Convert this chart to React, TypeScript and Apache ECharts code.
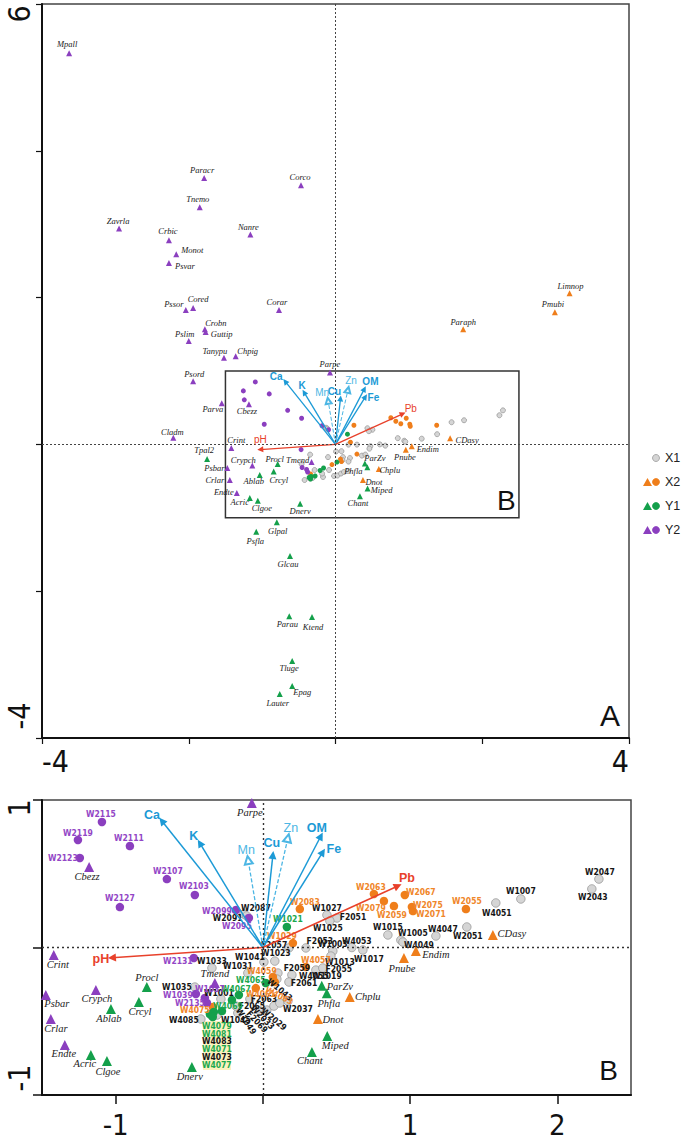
import React, { useEffect, useRef } from "react";
import * as echarts from "echarts";

type Pt = [string, number, number];

// ---------- sample scores (site points) ----------
const samplesX1: Pt[] = [
  ["W2087", -0.129, 0.227], ["W2091", -0.11, 0.214], ["W1027", 0.435, 0.22], ["F2051", 0.503, 0.2],
  ["W1025", 0.455, 0.18], ["F2057", 0.177, -0.003], ["F2053", 0.292, -0.003], ["W1003", 0.475, -0.024],
  ["W1013", 0.462, -0.058], ["W4053", 0.604, 0.0], ["W1017", 0.679, -0.017], ["W1015", 0.849, 0.085],
  ["W1005", 0.937, 0.05], ["W4049", 0.951, 0.037], ["W4047", 1.175, 0.078], ["W2051", 1.385, 0.139],
  ["W4051", 1.582, 0.302], ["W1007", 1.752, 0.329], ["W2047", 2.282, 0.464], ["W2043", 2.234, 0.397],
  ["W1041", 0.007, -0.098], ["W1023", 0.081, -0.092], ["W1033", -0.346, -0.139], ["W1031", -0.102, -0.173],
  ["F2059", 0.102, -0.173], ["W4055", 0.197, -0.186], ["W1019", 0.36, -0.153], ["F2055", 0.407, -0.139],
  ["F2061", 0.177, -0.234], ["W1043", 0.095, -0.214], ["W1035", -0.462, -0.268], ["W1001", -0.285, -0.349],
  ["W4085", -0.421, -0.485], ["W1045", -0.17, -0.444], ["F2063", -0.088, -0.349], ["F2065", -0.183, -0.397],
  ["W1049", -0.02, -0.43], ["F2069", 0.027, -0.424], ["W2033", 0.075, -0.397], ["W2029", 0.115, -0.376],
  ["W2037", 0.17, -0.363], ["W4083", -0.346, -0.464], ["W4073", -0.312, -0.458],
];
const samplesX2: Pt[] = [
  ["W2063", 0.754, 0.363], ["W2067", 0.964, 0.356], ["W2079", 0.822, 0.315], ["W2059", 0.89, 0.281],
  ["W2075", 1.012, 0.275], ["W2071", 1.019, 0.247], ["W2055", 1.379, 0.261], ["W2083", 0.251, 0.261],
  ["W1029", 0.204, 0.03], ["W4057", 0.292, -0.132], ["W4059", 0.068, -0.2], ["W4063", 0.081, -0.234],
  ["W4061", -0.048, -0.275], ["W4075", -0.34, -0.403],
];
const samplesY1: Pt[] = [
  ["W1021", 0.163, 0.139], ["W4065", 0.02, -0.241], ["W4067", -0.163, -0.322], ["W4069", -0.21, -0.356],
  ["W4079", -0.36, -0.451], ["W4081", -0.333, -0.437], ["W4071", -0.278, -0.431], ["W4077", -0.34, -0.471],
];
const samplesY2: Pt[] = [
  ["W2115", -1.093, 0.851], ["W2119", -1.256, 0.729], ["W2111", -0.903, 0.688], ["W2123", -1.243, 0.607],
  ["W2107", -0.652, 0.464], ["W2103", -0.462, 0.356], ["W2127", -0.971, 0.274], ["W2099", -0.183, 0.254],
  ["W2095", -0.095, 0.2], ["W2131", -0.469, -0.071], ["W1039", -0.455, -0.315], ["W1037", -0.394, -0.342],
  ["W2135", -0.38, -0.376],
];

// ---------- species scores ----------
const speciesX2: Pt[] = [
  ["Chplu", 0.59, -0.336], ["Dnot", 0.374, -0.485], ["Endim", 1.039, -0.024], ["Pnube", 0.958, -0.072],
  ["CDasy", 1.562, 0.085], ["Paraph", 1.74, 1.57], ["Pmubi", 2.99, 1.8], ["Limnop", 3.19, 2.06],
];
const speciesY1: Pt[] = [
  ["Tpal2", -1.75, -0.2], ["Ablab", -1.032, -0.417], ["Procl", -0.788, -0.268], ["Crcyl", -0.842, -0.37],
  ["Acric", -1.168, -0.729], ["Clgoe", -1.059, -0.769], ["Dnerv", -0.482, -0.81], ["Glpal", -0.8, -1.06],
  ["Psfla", -1.08, -1.19], ["Glcau", -0.62, -1.52], ["Parau", -0.63, -2.34], ["Ktend", -0.32, -2.35],
  ["Tluge", -0.59, -2.95], ["Lauter", -0.76, -3.4], ["Epag", -0.59, -3.29], ["ParZv", 0.4, -0.26],
  ["Phfla", 0.434, -0.31], ["Miped", 0.437, -0.6], ["Chant", 0.333, -0.708],
];
const speciesY2: Pt[] = [
  ["Mpall", -3.63, 5.33], ["Paracr", -1.79, 3.63], ["Corco", -0.47, 3.53], ["Tnemo", -1.85, 3.23],
  ["Zavrla", -2.95, 2.94], ["Crbic", -2.27, 2.78], ["Nanre", -1.16, 2.86], ["Monot", -2.17, 2.59],
  ["Psvar", -2.27, 2.47], ["Pssor", -2.04, 1.83], ["Cored", -1.94, 1.86], ["Corar", -0.77, 1.83],
  ["Crobn", -1.78, 1.57], ["Guttip", -1.77, 1.53], ["Pslim", -2.0, 1.41], ["Tanypu", -1.52, 1.18],
  ["Chpig", -1.36, 1.2], ["Psord", -1.94, 0.86], ["Parpe", -0.075, 0.98], ["Parva", -1.55, 0.56],
  ["Cbezz", -1.18, 0.546], ["Cladm", -2.21, 0.09], ["Crint", -1.42, -0.05], ["Crypch", -1.134, -0.288],
  ["Tmend", -0.326, -0.24], ["Psbar", -1.474, -0.322], ["Crlar", -1.44, -0.485], ["Endte", -1.345, -0.661],
];

// ---------- environmental vectors ----------
const envSolid: Pt[] = [["Ca", -0.686, 0.858], ["K", -0.428, 0.708], ["Cu", 0.068, 0.627], ["OM", 0.394, 0.756], ["Fe", 0.407, 0.647]];
const envDashed: Pt[] = [["Mn", -0.1, 0.593], ["Zn", 0.17, 0.742]];
const envRed: Pt[] = [["Pb", 0.917, 0.417], ["pH", -1.025, -0.07]];

// ---------- axis ranges / ticks ----------
const topXRange = [-4, 4];
const topYRange = [-4, 6];
const botXRange = [-1.5, 2.5];
const botYRange = [-1, 1];
const topXLabels = [-4, 4];
const botXTicks = [-1, 0, 1, 2];
const botXLabels = [-1, 1, 2];
const legendItems = ["X1", "X2", "Y1", "Y2"];

// ---------- label layout (label centre offset from point, px; optional rotation) ----------
const sampleLabelBottom: Record<string, number[]> = {
  W2115: [-1, -8], W2119: [0, -7], W2111: [-1, -8], W2123: [-17, 0], W2107: [1, -8], W2103: [-1, -9],
  W2127: [0, -9], W2099: [-19, 1], W2087: [12, -6], W2091: [-19, 2], W2095: [-12, 8], W2083: [5, -7],
  W1027: [0, -7], F2051: [16, -1], W1025: [-2, 7], W1021: [1, -8], W1029: [-11, -7], F2057: [-15, -3],
  F2053: [14, -7], W1003: [0, -7], W1013: [9, 6], W4053: [5, -7], W1017: [6, 9], W1015: [0, -8],
  W1005: [12, -7], W4049: [16, 3], W4047: [7, -7], W2051: [1, 9], W4051: [1, 10], W1007: [0, -8],
  W2047: [1, -7], W2043: [1, 8], W1041: [-14, -5], W1023: [1, -8], W1033: [0, -7], W1031: [-10, -7],
  F2059: [19, -5], W4055: [22, 1], W1019: [11, 6], F2055: [16, 1], F2061: [15, 1], W1043: [9, 6, -40],
  W1035: [-18, 0], W1001: [-2, -6], W4085: [-17, 1], W1045: [-2, 7], F2063: [14, 0], F2065: [16, 0],
  W1049: [1, 17, -57], F2069: [2, 15, -47], W2033: [0, 16, -45], W2029: [6, 16, -40], W2037: [10, 8],
  W4083: [5, 25], W4073: [0, 42],
  W2063: [-3, -7], W2067: [16, -3], W2079: [-13, 7], W2059: [-2, 9], W2075: [16, -2], W2071: [18, 3],
  W2055: [1, -8], W4057: [10, -7], W4059: [-11, -6], W4063: [10, 10, -27], W4061: [5, 6], W4075: [-18, 3],
  W4065: [-15, -3], W4067: [-3, -6], W4069: [-4, 6], W4079: [7, 12], W4081: [3, 22], W4071: [-5, 38],
  W4077: [4, 48],
  W2131: [-16, 3], W1039: [-18, 1], W1037: [5, -9], W2135: [-17, 0],
};
const speciesLabelBottom: Record<string, number[]> = {
  Parpe: [-2, 10], Cbezz: [-2, 10], Crint: [4, 10], Psbar: [11, 9], Crlar: [5, 9], Endte: [-1, 9],
  Crypch: [1, 9], Ablab: [-2, 9], Procl: [0, -10], Crcyl: [1, 9], Acric: [-6, 8], Clgoe: [1, 11],
  Dnerv: [-2, 10], Tmend: [0, -9], ParZv: [18, 1], Phfla: [2, 10], Chplu: [18, -1], Dnot: [15, 0],
  Miped: [8, 9], Chant: [-2, 9], Endim: [20, 3], Pnube: [-2, 10], CDasy: [19, -1],
};
const speciesLabelTop: Record<string, number[]> = {
  Mpall: [-2, -9], Paracr: [-2, -8], Corco: [-1, -8], Tnemo: [-2, -8], Zavrla: [-1, -8], Crbic: [-1, -9],
  Nanre: [-2, -7], Monot: [16, -4], Psvar: [16, 3], Pssor: [-12, -6], Cored: [5, -9], Corar: [-2, -8],
  Crobn: [11, -6], Guttip: [16, 2], Pslim: [-4, -7], Tanypu: [-9, -7], Chpig: [12, -5], Psord: [1, -7],
  Parpe: [0, -8], Parva: [-9, 6], Cbezz: [-2, 7], Cladm: [-1, -6], Crint: [5, -8], Tpal2: [-3, -9],
  Crypch: [-9, -6], Procl: [-3, -5], Tmend: [-14, -2], Psbar: [-13, 0], Ablab: [-6, 6], Crcyl: [5, 8],
  Crlar: [-15, 0], Endte: [-13, -1], Acric: [-10, 4], Clgoe: [4, 7], Dnerv: [0, 7], Glpal: [1, 9],
  Psfla: [-1, 9], Glcau: [-2, 8], Parau: [-2, 8], Ktend: [1, 10], Tluge: [-3, 7], Lauter: [-2, 9],
  Epag: [10, 6], ParZv: [10, -5], Phfla: [-14, 4], Chplu: [11, 1], Dnot: [11, 2], Miped: [14, 2],
  Chant: [-2, 7], Pnube: [-1, 7], Endim: [16, 3], CDasy: [17, 2], Paraph: [0, -7], Pmubi: [-2, -8],
  Limnop: [1, -7],
};
const envLabelBottom: Record<string, number[]> = {
  Ca: [-10, -6], K: [-6, -7], Mn: [-2, -10], Cu: [-1, -12], Zn: [3, -10], OM: [-4, -8], Fe: [11, -3],
  Pb: [9, -8], pH: [-11, 1],
};
const envLabelTop: Record<string, number[]> = {
  Ca: [-9, -5], K: [-2, -7], Mn: [-6, -8], Cu: [-6, -7], Zn: [3, -9], OM: [6, -7], Fe: [8, 1],
  Pb: [8, -5], pH: [0, -10],
};

// ---------- styles ----------
const NARROW = "'Liberation Sans Narrow', 'Arial Narrow', 'DejaVu Sans Condensed', 'Liberation Sans', sans-serif";
const SANS = "'Liberation Sans', Arial, sans-serif";
const SERIF = "'Liberation Serif', 'Times New Roman', serif";
const COL = {
  grey: "#d5d5d5", greyBorder: "#9a9a9a", orange: "#ef7e1b", green: "#14a04b", purple: "#8b3fbf",
  orangeText: "#f0862a", greenText: "#1ca84e", purpleText: "#9346c6", black: "#161616",
  blue: "#1c9ad6", blueLight: "#4cb6e4", red: "#e8412b",
};

const inBottom = (p: Pt) => p[1] >= botXRange[0] && p[1] <= botXRange[1] && p[2] >= botYRange[0] && p[2] <= botYRange[1];

function pointSeries(grid: number, pts: Pt[], symbol: string, size: number, color: string, border: string | null,
  labels: Record<string, number[]> | null, labelStyle: any, z: number) {
  return {
    type: "scatter", xAxisIndex: grid, yAxisIndex: grid, clip: false, z, silent: true,
    symbol, symbolSize: size,
    itemStyle: { color, borderColor: border || color, borderWidth: border ? 0.8 : 0, opacity: 1 },
    label: { show: false, formatter: "{b}", position: "inside", textBorderWidth: 0, textBorderColor: "transparent", ...labelStyle },
    emphasis: { disabled: true },
    data: pts.map((p) => {
      const off = labels ? labels[p[0]] : undefined;
      return {
        name: p[0], value: [p[1], p[2]],
        label: off ? { show: true, offset: [off[0], off[1]], rotate: off[2] || 0 } : { show: false },
      };
    }),
  };
}

function arrowSeries(grid: number, env: Pt[], color: string, dashed: boolean, size: number, width: number) {
  return {
    type: "lines", coordinateSystem: "cartesian2d", xAxisIndex: grid, yAxisIndex: grid, z: 4, silent: true,
    symbol: ["none", dashed ? "emptyTriangle" : "triangle"], symbolSize: size,
    lineStyle: { color, width, type: dashed ? [4, 2] : "solid", opacity: 1 },
    data: env.map((e) => ({ coords: [[0, 0], [e[1], e[2]]] })),
  };
}

function envLabelSeries(grid: number, env: Pt[], labels: Record<string, number[]>, color: string, size: number, weight: string) {
  return pointSeries(grid, env, "circle", 1, "rgba(0,0,0,0)", null, labels,
    { color, fontSize: size, fontWeight: weight, fontFamily: SANS }, 6);
}

function buildOption() {
  const topSp = { color: "#222", fontSize: 8.5, fontStyle: "italic", fontFamily: SERIF };
  const botSp = { color: "#222", fontSize: 10.5, fontStyle: "italic", fontFamily: SERIF };
  const smp = (c: string) => ({ color: c, fontSize: 8.5, fontWeight: "bold", fontFamily: NARROW });

  const series: any[] = [
    // zero lines + box B (top)
    {
      type: "scatter", xAxisIndex: 0, yAxisIndex: 0, data: [[0, 0]], symbolSize: 0, z: 1, silent: true,
      markLine: { silent: true, symbol: "none", label: { show: false },
        lineStyle: { color: "#444", type: [2, 2], width: 1 }, data: [{ xAxis: 0 }, { yAxis: 0 }] },
      markArea: { silent: true, itemStyle: { color: "rgba(0,0,0,0)", borderColor: "#333", borderWidth: 1.5 },
        label: { show: true, position: "insideBottomRight", distance: 4, formatter: "B", fontSize: 28, color: "#111", fontFamily: SANS },
        data: [[{ coord: [botXRange[0], botYRange[1]] }, { coord: [botXRange[1], botYRange[0]] }]] },
    },
    {
      type: "scatter", xAxisIndex: 1, yAxisIndex: 1, data: [[0, 0]], symbolSize: 0, z: 1, silent: true,
      markLine: { silent: true, symbol: "none", label: { show: false },
        lineStyle: { color: "#333", type: [2, 3], width: 1.4 }, data: [{ xAxis: 0 }, { yAxis: 0 }] },
      markArea: { silent: true, itemStyle: { color: "#fbf2bf", borderWidth: 0 }, label: { show: false },
        data: [[{ coord: [-0.407, -0.498] }, { coord: [-0.217, -0.83] }]] },
    },
    // top panel
    arrowSeries(0, envSolid, COL.blue, false, 6, 1.3),
    arrowSeries(0, envDashed, COL.blueLight, true, 6, 1),
    arrowSeries(0, envRed, COL.red, false, 6, 1.3),
    pointSeries(0, samplesX1, "circle", 5, COL.grey, COL.greyBorder, null, {}, 3),
    pointSeries(0, samplesX2, "circle", 5, COL.orange, null, null, {}, 3),
    pointSeries(0, samplesY1, "circle", 5, COL.green, null, null, {}, 3),
    pointSeries(0, samplesY2, "circle", 5, COL.purple, null, null, {}, 3),
    pointSeries(0, speciesX2, "triangle", 6, COL.orange, null, speciesLabelTop, topSp, 5),
    pointSeries(0, speciesY1, "triangle", 6, COL.green, null, speciesLabelTop, topSp, 5),
    pointSeries(0, speciesY2, "triangle", 6, COL.purple, null, speciesLabelTop, topSp, 5),
    envLabelSeries(0, envSolid, envLabelTop, COL.blue, 10, "bold"),
    envLabelSeries(0, envDashed, envLabelTop, COL.blueLight, 10, "normal"),
    envLabelSeries(0, envRed, envLabelTop, COL.red, 10, "normal"),
    // bottom panel
    arrowSeries(1, envSolid, COL.blue, false, 8, 1.5),
    arrowSeries(1, envDashed, COL.blueLight, true, 8, 1.3),
    arrowSeries(1, envRed, COL.red, false, 8, 1.5),
    pointSeries(1, samplesX1, "circle", 8.5, COL.grey, COL.greyBorder, sampleLabelBottom, smp(COL.black), 3),
    pointSeries(1, samplesX2, "circle", 8.5, COL.orange, null, sampleLabelBottom, smp(COL.orangeText), 3),
    pointSeries(1, samplesY1, "circle", 8.5, COL.green, null, sampleLabelBottom, smp(COL.greenText), 3),
    pointSeries(1, samplesY2, "circle", 8.5, COL.purple, null, sampleLabelBottom, smp(COL.purpleText), 3),
    pointSeries(1, speciesX2.filter(inBottom), "triangle", 10, COL.orange, null, speciesLabelBottom, botSp, 5),
    pointSeries(1, speciesY1.filter(inBottom), "triangle", 10, COL.green, null, speciesLabelBottom, botSp, 5),
    pointSeries(1, speciesY2.filter(inBottom), "triangle", 10, COL.purple, null, speciesLabelBottom, botSp, 5),
    envLabelSeries(1, envSolid, envLabelBottom, COL.blue, 12.5, "bold"),
    envLabelSeries(1, envDashed, envLabelBottom, COL.blueLight, 12.5, "normal"),
    envLabelSeries(1, envRed, envLabelBottom, COL.red, 12.5, "bold"),
  ];

  const axisLine = { onZero: false, lineStyle: { color: "#111", width: 2 } };
  const legendColors: Record<string, string> = { X1: COL.grey, X2: COL.orange, Y1: COL.green, Y2: COL.purple };
  const legendEls: any[] = [];
  legendItems.forEach((k, i) => {
    const y = 458 + i * 24;
    if (k !== "X1") {
      legendEls.push({ type: "polygon", shape: { points: [[643, y + 4], [647.5, y - 4], [652, y + 4]] }, style: { fill: legendColors[k] } });
    }
    legendEls.push({ type: "circle", shape: { cx: 656, cy: y, r: 3.5 },
      style: { fill: legendColors[k], stroke: k === "X1" ? COL.greyBorder : legendColors[k], lineWidth: 0.8 } });
    legendEls.push({ type: "text", x: 665, y, style: { text: k, fontSize: 12.5, fontFamily: SANS, fill: "#222", align: "left", verticalAlign: "middle", textAlign: "left", textVerticalAlign: "middle" } });
  });
  const bigText = (t: string, x: number, y: number, rot: number, size: number, ha = "center", va = "middle", fam = NARROW) => ({
    type: "text", x, y, rotation: rot,
    style: { text: t, fontSize: size, fontFamily: fam, fill: "#111", align: ha, verticalAlign: va, textAlign: ha, textVerticalAlign: va },
  });

  return {
    animation: false,
    backgroundColor: "#fff",
    grid: [
      { left: 42, top: 4, width: 587, height: 734, show: true, borderColor: "#444", borderWidth: 1.5, backgroundColor: "transparent" },
      { left: 42, top: 800, width: 589, height: 295, show: true, borderColor: "#444", borderWidth: 1.5, backgroundColor: "transparent" },
    ],
    xAxis: [
      { gridIndex: 0, type: "value", min: topXRange[0], max: topXRange[1], interval: 2, splitLine: { show: false }, axisLine,
        axisTick: { length: 6, lineStyle: { color: "#111", width: 1.2 } },
        axisLabel: { customValues: topXLabels, fontSize: 30, fontFamily: NARROW, color: "#111", margin: 8, alignMinLabel: "left", alignMaxLabel: "right" } },
      { gridIndex: 1, type: "value", min: botXRange[0], max: botXRange[1], splitLine: { show: false }, axisLine,
        axisTick: { customValues: botXTicks, length: 9, lineStyle: { color: "#111", width: 1.5 } },
        axisLabel: { customValues: botXLabels, fontSize: 29, fontFamily: NARROW, color: "#111", margin: 15 } },
    ],
    yAxis: [
      { gridIndex: 0, type: "value", min: topYRange[0], max: topYRange[1], interval: 2, splitLine: { show: false }, axisLine,
        axisTick: { length: 6, lineStyle: { color: "#111", width: 1.2 } }, axisLabel: { show: false } },
      { gridIndex: 1, type: "value", min: botYRange[0], max: botYRange[1], interval: 1, splitLine: { show: false }, axisLine,
        axisTick: { length: 9, lineStyle: { color: "#111", width: 1.5 } }, axisLabel: { show: false } },
    ],
    series,
    graphic: [
      bigText("6", 19, 14, Math.PI / 2, 30),
      bigText("-4", 19, 716, Math.PI / 2, 30),
      bigText("1", 19, 808, Math.PI / 2, 30),
      bigText("-1", 19, 1078, Math.PI / 2, 30),
      bigText("A", 620, 730, 0, 30, "right", "bottom", SANS),
      bigText("B", 618, 1084, 0, 28, "right", "bottom", SANS),
      ...legendEls,
    ],
  };
}

export default function App() {
  const ref = useRef<HTMLDivElement>(null);
  useEffect(() => {
    if (!ref.current) return;
    const chart = echarts.init(ref.current, null, { renderer: "svg" });
    chart.setOption(buildOption() as any);
    return () => chart.dispose();
  }, []);
  return <div ref={ref} style={{ position: "absolute", left: 0, top: 0, width: 685, height: 1147 }} />;
}
